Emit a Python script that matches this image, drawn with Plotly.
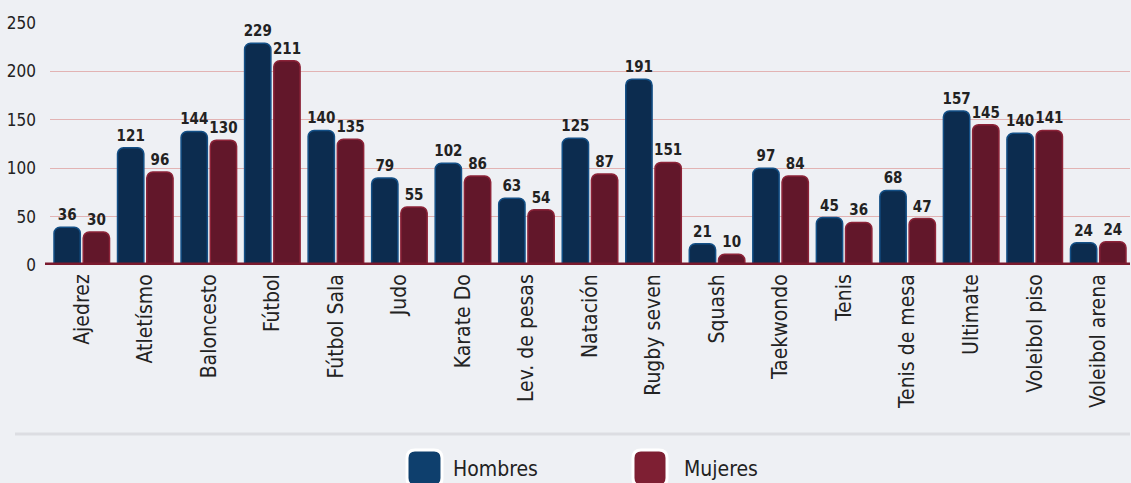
import plotly.graph_objects as go

# ---- data ----
deportes = ["Ajedrez", "Atletísmo", "Baloncesto", "Fútbol", "Fútbol Sala", "Judo",
            "Karate Do", "Lev. de pesas", "Natación", "Rugby seven", "Squash",
            "Taekwondo", "Tenis", "Tenis de mesa", "Ultimate", "Voleibol piso",
            "Voleibol arena"]
# values printed on the chart
hombres = [36, 121, 144, 229, 140, 79, 102, 63, 125, 191, 21, 97, 45, 68, 157, 140, 24]
mujeres = [30, 96, 130, 211, 135, 55, 86, 54, 87, 151, 10, 84, 36, 47, 145, 141, 24]
# bar heights as drawn in the picture
hombres_barra = [39, 121, 138, 229, 139, 90, 105, 69, 131, 192, 22, 100, 49, 77, 159, 136, 23]
mujeres_barra = [34, 96, 129, 211, 130, 60, 92, 57, 94, 106, 11, 92, 44, 48, 145, 139, 24]
y_ticks = [0, 50, 100, 150, 200, 250]

# ---- layout constants (pixels) ----
W, H = 1131, 483
L, R, T, B = 50, 1, 23, 218

def px_x(p):
    return (p - L) / (W - L - R)

def px_y(p):
    return (H - B - p) / (H - T - B)

BG = "#eef0f4"
NAVY = "#0c2c4f"
NAVY_EDGE = "#134f86"
WINE = "#62172a"
WINE_EDGE = "#8c2338"
FONT = "DejaVu Sans Condensed, Roboto, sans-serif"

fig = go.Figure()
fig.add_trace(go.Bar(
    name="Hombres", x=deportes, y=hombres_barra, text=hombres,
    texttemplate="<b>%{text}</b>", textposition="outside",
    textfont=dict(family=FONT, size=15, color="#222222"),
    marker=dict(color=NAVY, line=dict(color=NAVY_EDGE, width=1.5)),
    cliponaxis=False,
))
fig.add_trace(go.Bar(
    name="Mujeres", x=deportes, y=mujeres_barra, text=mujeres,
    texttemplate="<b>%{text}</b>", textposition="outside",
    textfont=dict(family=FONT, size=15, color="#222222"),
    marker=dict(color=WINE, line=dict(color=WINE_EDGE, width=1.5)),
    cliponaxis=False,
))

def rounded_rect(x0, y0, x1, y1, r):
    pts = [
        ("M", x0 + r, y0), ("L", x1 - r, y0), ("Q", x1, y0, x1, y0 + r),
        ("L", x1, y1 - r), ("Q", x1, y1, x1 - r, y1), ("L", x0 + r, y1),
        ("Q", x0, y1, x0, y1 - r), ("L", x0, y0 + r), ("Q", x0, y0, x0 + r, y0),
    ]
    out = []
    for p in pts:
        cmd = p[0]
        coords = p[1:]
        s = []
        for i in range(0, len(coords), 2):
            s.append(f"{px_x(coords[i]):.5f},{px_y(coords[i+1]):.5f}")
        out.append(cmd + " " + " ".join(s))
    return " ".join(out) + " Z"

shapes = [
    # baseline
    dict(type="line", xref="paper", yref="y", x0=px_x(45), x1=1, y0=0, y1=0,
         line=dict(color="#7a1a2e", width=5), layer="above"),
    # separator above legend
    dict(type="line", xref="paper", yref="paper", x0=px_x(15), x1=1,
         y0=px_y(434), y1=px_y(434), line=dict(color="#dcdde2", width=3), layer="below"),
    # legend swatches
    dict(type="path", xref="paper", yref="paper", path=rounded_rect(407, 450, 442, 486, 8),
         fillcolor="#0e3f6d", line=dict(color="white", width=3)),
    dict(type="path", xref="paper", yref="paper", path=rounded_rect(633, 450, 667, 486, 8),
         fillcolor="#7e1f33", line=dict(color="white", width=3)),
]

annotations = [
    dict(xref="paper", yref="paper", x=px_x(451), y=px_y(469), text="Hombres",
         showarrow=False, xanchor="left", yanchor="middle",
         font=dict(family=FONT, size=21, color="#222222")),
    dict(xref="paper", yref="paper", x=px_x(682), y=px_y(469), text="Mujeres",
         showarrow=False, xanchor="left", yanchor="middle",
         font=dict(family=FONT, size=21, color="#222222")),
]

fig.update_layout(
    width=W, height=H,
    margin=dict(l=L, r=R, t=T, b=B, pad=0, autoexpand=False),
    paper_bgcolor=BG, plot_bgcolor=BG,
    barmode="group", bargap=0.08, bargroupgap=0.1, barcornerradius=6,
    uniformtext=dict(minsize=15, mode="show"),
    showlegend=False,
    shapes=shapes, annotations=annotations,
    font=dict(family=FONT, color="#222222"),
)
fig.update_xaxes(
    tickangle=-90, tickfont=dict(family=FONT, size=21, color="#222222"),
    showgrid=False, showline=False, ticks="", ticklabelstandoff=4, automargin=False,
)
fig.update_yaxes(
    range=[0, 250], tickvals=y_ticks, showgrid=True, gridcolor="#e2b3b3", gridwidth=1,
    zeroline=False, showline=False, ticks="", automargin=False,
    tickfont=dict(family=FONT, size=17, color="#222222"), ticklabelstandoff=13,
)

fig.write_html(
    "out.html",
    config={"displayModeBar": False},
    post_script="document.body.style.margin='0';document.body.style.background='" + BG + "';",
)
